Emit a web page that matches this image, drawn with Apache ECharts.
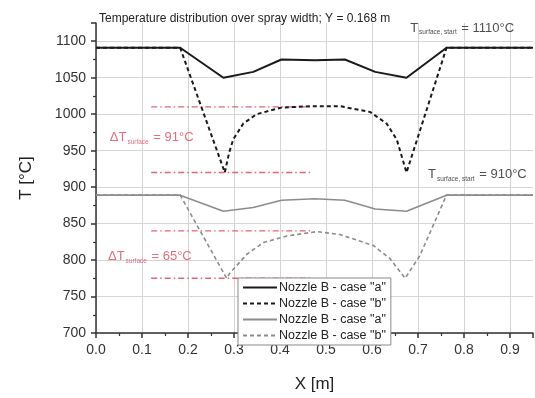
<!DOCTYPE html>
<html>
<head>
<meta charset="utf-8">
<script src="https://cdn.jsdelivr.net/npm/echarts@6/dist/echarts.min.js"></script>
<style>
  html, body { margin: 0; padding: 0; background: #fff; }
  #chart { width: 535px; height: 398px; }
</style>
</head>
<body>
<div id="chart"></div>
<script>
// Surface temperature across the spray width (X in m, T in °C)
const caseA1110X = [0, 0.183, 0.277, 0.342, 0.403, 0.476, 0.541, 0.607, 0.675, 0.762, 0.95];
const caseA1110T = [1091, 1091, 1050, 1058, 1075, 1074, 1075, 1058, 1050, 1091, 1091];

const caseB1110X = [0, 0.183, 0.280, 0.289, 0.298, 0.320, 0.349, 0.403, 0.467, 0.530, 0.596, 0.632, 0.654, 0.675, 0.762, 0.95];
const caseB1110T = [1091, 1091, 920, 946, 965, 987, 1000, 1009, 1011, 1011, 1003, 987, 965, 920, 1091, 1091];

const caseA910X = [0, 0.183, 0.277, 0.342, 0.403, 0.476, 0.541, 0.607, 0.675, 0.762, 0.95];
const caseA910T = [889, 889, 867, 872, 882, 884, 882, 870, 867, 889, 889];

const caseB910X = [0, 0.183, 0.284, 0.291, 0.328, 0.364, 0.415, 0.480, 0.530, 0.603, 0.639, 0.672, 0.704, 0.762, 0.95];
const caseB910T = [889, 889, 775, 782, 808, 824, 833, 839, 835, 820, 802, 775, 806, 889, 889];

// ΔT marker levels (upper / lower bound) and their x span
const deltaSpanX = [0.12, 0.47];
const delta1110Levels = [1010, 920];
const delta910Levels = [840, 775];

const legendLabels = ['Nozzle B - case "a"', 'Nozzle B - case "b"', 'Nozzle B - case "a"', 'Nozzle B - case "b"'];
const seriesIds = ['a1110', 'b1110', 'a910', 'b910'];

const FONT = 'Liberation Sans, Arial, sans-serif';
const RED = '#dc4a5e';

function pairs(xs, ys) { return xs.map((x, i) => [x, ys[i]]); }

function levelLine(level) {
  return {
    type: 'line', silent: true, showSymbol: false, symbol: 'none', z: 1,
    data: deltaSpanX.map(x => [x, level]),
    lineStyle: { color: RED, width: 1.4, type: [6, 3, 1.5, 3], opacity: 0.85 }
  };
}

const rich = {
  t: { fontSize: 13, color: '#222', fontFamily: FONT, lineHeight: 16 },
  s: { fontSize: 6.5, color: '#222', fontFamily: FONT, verticalAlign: 'bottom', lineHeight: 10, padding: [8, 1, 0, 1] },
  rt: { fontSize: 13, color: RED, fontFamily: FONT, lineHeight: 16 },
  rs: { fontSize: 6.5, color: RED, fontFamily: FONT, verticalAlign: 'bottom', lineHeight: 10, padding: [8, 1, 0, 1] }
};

const notes = [
  { value: [0.683, 1118], text: '{t|T}{s|surface, start}{t| = 1110°C}' },
  { value: [0.722, 917], text: '{t|T}{s|surface, start}{t| = 910°C}' },
  { value: [0.030, 968], text: '{rt|ΔT}{rs|surface}{rt| = 91°C}' },
  { value: [0.026, 805], text: '{rt|ΔT}{rs|surface}{rt| = 65°C}' }
];

const chart = echarts.init(document.getElementById('chart'), null, { renderer: 'canvas' });

chart.setOption({
  animation: false,
  backgroundColor: '#fff',
  textStyle: { fontFamily: FONT },
  title: {
    text: 'Temperature distribution over spray width; Y = 0.168 m',
    left: 94, top: 8,
    textStyle: { fontSize: 12, fontWeight: 'normal', color: '#222', fontFamily: FONT }
  },
  grid: { left: 96, right: 2, top: 23, bottom: 54, containLabel: false },
  legend: {
    data: seriesIds,
    formatter: name => legendLabels[seriesIds.indexOf(name)],
    orient: 'vertical',
    left: 238, top: 278,
    itemWidth: 34, itemHeight: 12, itemGap: 3,
    padding: [3, 5, 3, 4],
    backgroundColor: '#fff',
    borderColor: '#888', borderWidth: 1,
    itemStyle: { opacity: 0 },
    textStyle: { fontSize: 12.5, color: '#222', fontFamily: FONT, padding: [0, 0, 0, -3] },
    z: 10
  },
  xAxis: {
    type: 'value', min: 0, max: 0.95, interval: 0.1,
    name: 'X [m]', nameLocation: 'middle', nameGap: 43,
    nameTextStyle: { fontSize: 17, color: '#222', fontFamily: FONT },
    axisLine: { lineStyle: { color: '#333', width: 1.5 } },
    axisTick: { length: 5, lineStyle: { color: '#333', width: 1.5 } },
    minorTick: { show: true, splitNumber: 2, length: 3, lineStyle: { color: '#333', width: 1.2 } },
    axisLabel: { fontSize: 14, color: '#333', margin: 10, showMaxLabel: false, formatter: v => v.toFixed(1) },
    splitLine: { show: true, showMaxLine: false, lineStyle: { color: '#d4d4d4', width: 1 } }
  },
  yAxis: {
    type: 'value', min: 700, max: 1125, interval: 50,
    name: 'T [°C]', nameLocation: 'middle', nameGap: 61, nameRotate: 90,
    nameTextStyle: { fontSize: 17, color: '#222', fontFamily: FONT },
    axisLine: { show: true, lineStyle: { color: '#333', width: 1.5 } },
    axisTick: { show: true, length: 5, lineStyle: { color: '#333', width: 1.5 } },
    minorTick: { show: true, splitNumber: 2, length: 3, lineStyle: { color: '#333', width: 1.2 } },
    axisLabel: { fontSize: 14, color: '#333', margin: 10, showMaxLabel: false, formatter: v => String(v) },
    splitLine: { show: true, showMaxLine: false, lineStyle: { color: '#d4d4d4', width: 1 } }
  },
  series: [
    levelLine(delta1110Levels[0]),
    levelLine(delta1110Levels[1]),
    levelLine(delta910Levels[0]),
    levelLine(delta910Levels[1]),
    {
      name: 'a1110', type: 'line', symbol: 'none', z: 3,
      data: pairs(caseA1110X, caseA1110T),
      lineStyle: { color: '#1a1a1a', width: 2 }, itemStyle: { color: '#1a1a1a' }
    },
    {
      name: 'b1110', type: 'line', symbol: 'none', z: 3,
      data: pairs(caseB1110X, caseB1110T),
      lineStyle: { color: '#1a1a1a', width: 2, type: [4, 3] }, itemStyle: { color: '#1a1a1a' }
    },
    {
      name: 'a910', type: 'line', symbol: 'none', z: 3,
      data: pairs(caseA910X, caseA910T),
      lineStyle: { color: '#8c8c8c', width: 1.6 }, itemStyle: { color: '#8c8c8c' }
    },
    {
      name: 'b910', type: 'line', symbol: 'none', z: 3,
      data: pairs(caseB910X, caseB910T),
      lineStyle: { color: '#8c8c8c', width: 1.6, type: [4, 3] }, itemStyle: { color: '#8c8c8c' }
    },
    {
      type: 'scatter', silent: true, symbolSize: 0, z: 5,
      data: notes.map(n => ({ value: n.value, label: { formatter: n.text } })),
      label: { show: true, position: 'right', distance: 0, rich: rich }
    }
  ]
});
</script>
</body>
</html>
